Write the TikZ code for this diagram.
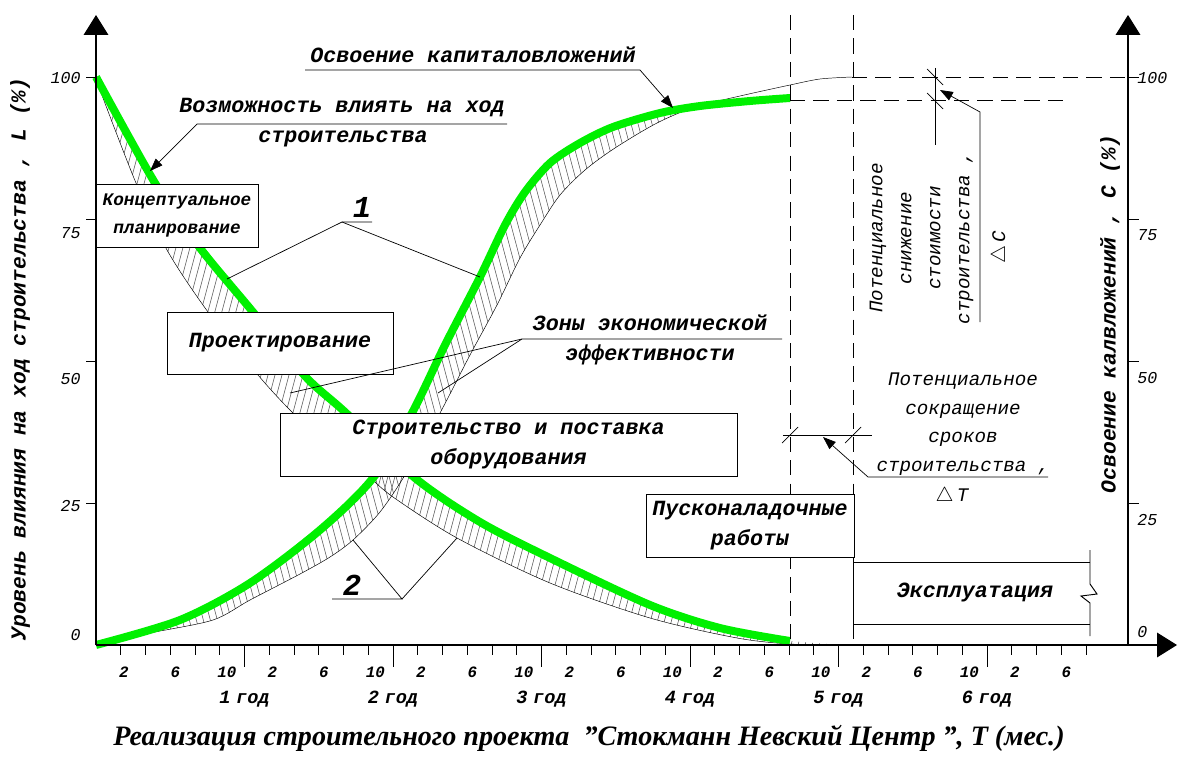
\documentclass[tikz,border=0pt]{standalone}
\usepackage{fontspec}
\setmainfont{Liberation Serif}
\newfontfamily\cour{Liberation Mono}
\usepackage{tikz}
\usetikzlibrary{arrows.meta}
\usetikzlibrary{positioning}
\definecolor{lime}{RGB}{0,240,0}
\definecolor{gray}{rgb}{0.3,0.3,0.3}

\begin{document}
\begin{tikzpicture}[
            x = 0.03cm, y = -0.03cm, % one unit = one pixel of the sheet
            > = {Triangle[length=11pt, width=8pt]}, % arrow head style
            semithick % line style
        ]

        \tikzstyle{box}=[draw, line width = 0.8pt, fill = white, align = center, inner sep = 0pt,
            font = \cour\bfseries\itshape\fontsize{18.5}{25}\selectfont]
        \tikzstyle{lbl}=[inner sep = 0pt, align = center,
            font = \cour\bfseries\itshape\fontsize{18.5}{25}\selectfont]
        \tikzstyle{note}=[inner sep = 0pt, align = center,
            font = \cour\itshape\fontsize{16.4}{24.3}\selectfont]
        \tikzstyle{num}=[inner sep = 0pt, font = \cour\itshape\fontsize{14.2}{16}\selectfont]
        \tikzstyle{mon}=[inner sep = 0pt, font = \cour\bfseries\itshape\fontsize{13.5}{16}\selectfont]
        \tikzstyle{yr}=[inner sep = 0pt, font = \cour\bfseries\itshape\fontsize{15.9}{18}\selectfont]
        \tikzstyle{fat}=[line width = 6.8pt, lime]
        \tikzstyle{hatch}=[gray, line width = 0.45pt]
        \tikzstyle{cut}=[line width = 0.8pt, dash pattern = on 13pt off 7pt]
        \tikzstyle{ax}=[line width = 1pt, -{Triangle[length=17pt, width=21pt]}]

        \useasboundingbox (0,0) rectangle (1178,758);

        % hatched zones between the curves
        \begin{scope}
            \clip plot[smooth] coordinates {(96,77) (155,183) (200,248) (253,312) (305,376) (345,412) (415,478) (480,522) (550,558) (650,605) (720,628) (790,641)}
                -- plot[smooth] coordinates {(840,645) (790,644) (737,638) (650,618) (550,583) (457,538) (393,497) (367,475) (330,446) (293,413) (258,375) (208,312) (167,250) (136,183) (103,98) (96,77)} -- cycle;
            \foreach \x in {-200,-193,...,900}
                \draw[hatch] (\x,660) -- (\x+160,60);
        \end{scope}
        \begin{scope}
            \clip plot[smooth] coordinates {(96,645) (180,620) (250,583) (320,530) (373,478) (412,413) (445,345) (480,277) (505,225) (525,192) (550,163) (580,143) (613,127) (660,113) (695,107)}
                -- plot[smooth] coordinates {(695,107) (657,123) (615,148) (585,170) (560,195) (540,225) (520,258) (497,305) (470,355) (440,413) (405,475) (380,512) (353,540) (330,557) (300,574) (250,600) (213,620) (150,633) (96,645)} -- cycle;
            \foreach \x in {-100,-93,...,900}
                \draw[hatch] (\x,60) -- (\x+160,660);
        \end{scope}

        % curves L and C
        \draw[thin] plot[smooth] coordinates {(96,77) (103,98) (136,183) (167,250) (208,312) (258,375) (293,413) (330,446) (367,475) (393,497) (457,538) (550,583) (650,618) (737,638) (790,644) (840,645)};
        \draw[thin] plot[smooth] coordinates {(96,645) (150,633) (213,620) (250,600) (300,574) (330,557) (353,540) (380,512) (405,475) (440,413) (470,355) (497,305) (520,258) (540,225) (560,195) (585,170) (615,148) (657,123) (695,107) (740,96) (790,85) (820,79) (852,77)};
        \draw[fat] plot[smooth] coordinates {(96,77) (155,183) (200,248) (253,312) (305,376) (345,412) (415,478) (480,522) (550,558) (650,605) (720,628) (790,641)};
        \draw[fat] plot[smooth] coordinates {(96,645) (180,620) (250,583) (320,530) (373,478) (412,413) (445,345) (480,277) (505,225) (525,192) (550,163) (580,143) (613,127) (660,113) (700,106) (750,101) (790,98)};

        % axes
        \coordinate (O) at (96,645);
        \coordinate (Lt) at (96,15);
        \coordinate (R) at (1128,645);
        \coordinate (Rt) at (1128,15);
        \coordinate (Xt) at (1177,645);
        \draw[ax] (O) -- (Lt);
        \draw[ax] (R) -- (Rt);
        \draw[ax] (O) -- (Xt);

        \foreach \y in {77,219,361,503} {
            \draw (86,\y) -- (96,\y);
            \draw (1128,\y) -- (1139,\y);
        }
        \foreach \v/\y/\yy in {100/78/78, 75/233/235, 50/379/378, 25/506/520, 0/635/632} {
            \node[num, anchor = east] (l\v) at (81,\y) {\v};
            \node[num, anchor = west] (r\v) at (1137,\yy) {\v};
        }

        % months and years
        \foreach \m in {2,4,...,80} {
            \pgfmathtruncatemacro{\r}{mod(\m,12)}
            \ifnum\r=0
                \draw (96+12.375*\m,645) -- ++(0,22);
            \else
                \draw (96+12.375*\m,645) -- ++(0,10);
            \fi
        }
        \foreach \yr in {0,...,6} {
            \foreach \m/\dx in {2/3,6/5,10/7} {
                \pgfmathtruncatemacro{\mm}{12*\yr+\m}
                \ifnum\mm<80
                    \node[mon] (m\mm) at (96+12.375*\mm+\dx,672) {\m};
                \fi
            }
        }
        \foreach \yr in {1,...,6}
            \node[yr] (y\yr) at (96+148.5*\yr,699) {\yr\hspace{0.3em}год};

        \node[inner sep = 0pt, font = \bfseries\itshape\fontsize{24}{28}\selectfont] (T) at (589,738)
            {Реализация строительного проекта\ \ \char34Стокманн Невский Центр \char34, Т (мес.)};

        \node[lbl, rotate = 90, font = \cour\bfseries\itshape\fontsize{18.2}{22}\selectfont] (LY) at (20,359)
            {Уровень влияния на ход строительства , L (\%)};
        \node[lbl, rotate = 90, font = \cour\bfseries\itshape\fontsize{18.2}{22}\selectfont] (RY) at (1110,314)
            {Освоение калвложений , С (\%)};

        % time and cost limits
        \draw[cut] (790,15) -- (790,645);
        \draw[cut] (853,15) -- (853,645);
        \draw[cut] (852,77) -- (1128,77);
        \draw[cut] (790,100) -- (1065,100);

        % stages
        \node[box, minimum width = 4.86cm, minimum height = 1.89cm,
              font = \cour\bfseries\itshape\fontsize{15.1}{24}\selectfont] (KP) at (177,215.5) {Концептуальное\\планирование};
        \node[box, minimum width = 6.78cm, minimum height = 1.86cm] (PR) at (280,343) {Проектирование};
        \node[box, minimum width = 13.71cm, minimum height = 1.89cm] (SP) at (508.5,444.5) {Строительство и поставка\\оборудования};
        \node[box, minimum width = 6.24cm, minimum height = 1.89cm] (PN) at (750,525.5) {Пусконаладочные\\работы};

        \draw[line width = 0.8pt] (1090,562) -- (853,562) -- (853,624) -- (1090,624);
        \draw[line width = 0.8pt] (1090,550) -- (1090,584) -- (1097,594) -- (1081,596) -- (1090,603) -- (1090,636);
        \node[lbl] (EX) at (975,592) {Эксплуатация};

        % labels
        \node[lbl] (V1) at (342,108) {Возможность влиять на ход};
        \node[lbl] (V2) at (343,139) {строительства};
        \node[lbl] (OK) at (473,55) {Освоение капиталовложений};
        \node[lbl] (Z1) at (650,323) {Зоны экономической};
        \node[lbl] (Z2) at (650,355) {эффективности};
        \node[lbl, font = \cour\bfseries\itshape\fontsize{26}{30}\selectfont] (N1) at (362,207) {1};
        \node[lbl, font = \cour\bfseries\itshape\fontsize{26}{30}\selectfont] (N2) at (352,585) {2};

        \node[note] (DT) at (963,424) {Потенциальное\\сокращение\\сроков\\строительства ,};
        \node[note] (DTs) at (952,496) {$\triangle$\,Т};
        \node[note, rotate = 90, font = \cour\itshape\fontsize{16.4}{24.7}\selectfont] (DC) at (921.5,238)
            {Потенциальное\\снижение\\стоимости\\строительства ,};
        \node[note, rotate = 90] (DCs) at (1000,247) {$\triangle$\,С};

        % dimensions
        \draw (935,68) -- (935,145);
        \draw (927,69) -- (943,85);
        \draw (927,93) -- (943,109);
        \draw (783,435) -- (872,435);
        \draw (782,443) -- (798,427);
        \draw (845,443) -- (861,427);

        % leaders
        \coordinate (v) at (150,171);
        \coordinate (ok) at (673,108);
        \coordinate (a1) at (227,279);
        \coordinate (b1) at (480,277);
        \coordinate (a2) at (353,540);
        \coordinate (b2) at (457,538);
        \coordinate (az) at (290,393);
        \coordinate (bz) at (438,393);
        \coordinate (dt) at (823,437);
        \coordinate (dc) at (940,90);

        \draw[->] (507,124) -- (197,124) -- (v);
        \draw[->] (305,70) -- (640,70) -- (ok);
        \draw (372,222) -- (342,222) -- (a1);
        \draw (342,222) -- (b1);
        \draw (332,599) -- (402,599) -- (a2);
        \draw (402,599) -- (b2);
        \draw (782,339) -- (522,339) -- (az);
        \draw (522,339) -- (bz);
        \draw[->] (1048,477) -- (868,477) -- (dt);
        \draw[->] (980,322) -- (980,112) -- (dc);

\end{tikzpicture}
\end{document}
